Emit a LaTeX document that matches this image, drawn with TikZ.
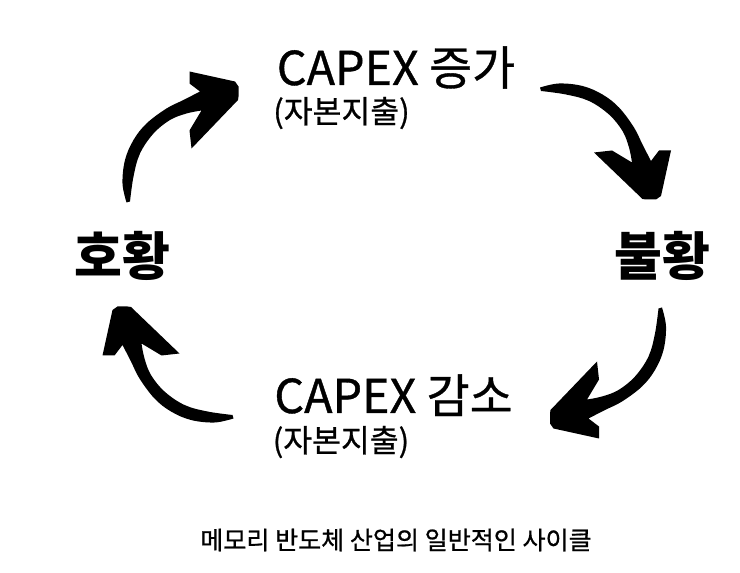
\documentclass[tikz,border=0pt]{standalone}
\usepackage{fontspec}
\setmainfont{Noto Sans CJK KR}
\newfontfamily\krmid[FakeBold=0.8]{Noto Sans CJK KR}
\usepackage{tikz}
\usetikzlibrary{positioning, calc}

\tikzset{
    cyclearrow/.pic={
        \fill[black] plot[smooth, tension=0.6] coordinates {(-56,55) (-60,36) (-57.5,12.5) (-49,-7.5) (-36,-24) (-16,-39) (1,-47.5) (17.5,-56)}
            -- (7,-64) -- (7,-76) -- (52.5,-66) -- (56,-61) -- (56,-51) -- (55.5,-47.5) -- (9,1) -- (7,-17) -- (19,-37)
            -- plot[smooth, tension=0.6] coordinates {(19,-37) (4,-34) (-12.5,-27.5) (-29,-14) (-42.5,6) (-49,29) (-52.5,54)}
            -- cycle;
    }
}

\begin{document}
\begin{tikzpicture}[
        x=0.75pt, y=-0.75pt,
        every node/.style={inner sep=0pt, text=black},
        phase/.style={font=\krmid\fontsize{35}{40}\selectfont},
        note/.style={font=\krmid\fontsize{23.5}{28}\selectfont},
        state/.style={font=\bfseries\fontsize{39}{44}\selectfont},
        caption/.style={font=\krmid\fontsize{18.8}{22}\selectfont}
    ]
        \useasboundingbox (0,0) rectangle (740,573);

        % Nodes
        \node[phase, anchor=base] (up) at (396,85) {CAPEX 증가};
        \node[note] (upnote) at (341.5,113) {(자본지출)};
        \node[state] (boom) at (122.5,256) {호황};
        \node[state] (bust) at (662.5,256) {불황};
        \node[phase, anchor=base] (down) at (393.5,413) {CAPEX 감소};
        \node[note] (downnote) at (341,442) {(자본지출)};
        \node[caption] (title) at (396,540) {메모리 반도체 산업의 일반적인 사이클};

        % Arrows
        \coordinate (a1) at (182.5,147.5);
        \coordinate (a2) at (595,143.5);
        \coordinate (a3) at (606,362.5);
        \coordinate (a4) at (178.5,362.5);
        \pic at (a1) {cyclearrow};
        \pic[rotate=-90] at (a2) {cyclearrow};
        \pic[rotate=180] at (a3) {cyclearrow};
        \pic[rotate=90] at (a4) {cyclearrow};

    \end{tikzpicture}
\end{document}
